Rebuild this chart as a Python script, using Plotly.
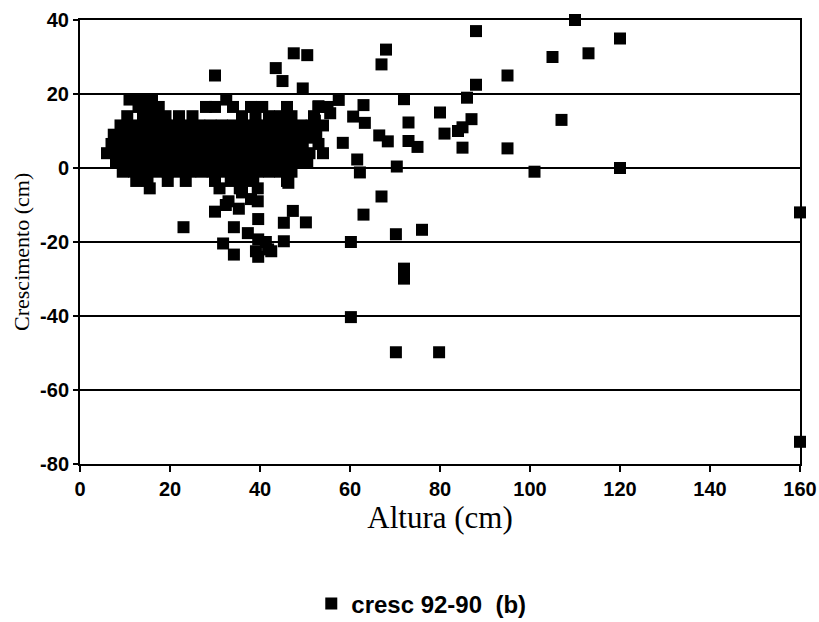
import plotly.graph_objects as go

# Dense cluster rows (y value, list of x values)
cluster_rows = [
    (18.5, [11, 13.5, 16, 32.5]),
    (16.5, [13, 15.5, 17.5, 28, 30, 34, 38, 40.5, 46, 53, 55]),
    (14.0, [10.5, 14, 16.5, 19, 22, 25, 36, 39, 42, 44.5, 47, 52]),
    (11.5, [9, 11.5, 14, 16.5, 19, 21.5, 24, 26.5, 29, 31.5, 34, 36.5, 39, 41.5, 44, 46.5, 49, 51.5, 54]),
    (9.0, [7.5, 10, 12.5, 15, 17.5, 20, 22.5, 25, 27.5, 30, 32.5, 35, 37.5, 40, 42.5, 45, 47.5, 50, 52.5]),
    (6.5, [7, 9.5, 12, 14.5, 17, 19.5, 22, 24.5, 27, 29.5, 32, 34.5, 37, 39.5, 42, 44.5, 47, 49.5, 53]),
    (4.0, [6, 8.5, 11, 13.5, 16, 18.5, 21, 23.5, 26, 28.5, 31, 33.5, 36, 38.5, 41, 43.5, 46, 48.5, 51, 54]),
    (1.5, [8, 10.5, 13, 15.5, 18, 20.5, 23, 25.5, 28, 30.5, 33, 35.5, 38, 40.5, 43, 45.5, 48, 50.5]),
    (-1.0, [9.5, 12, 14.5, 17, 19.5, 22, 24.5, 27, 29.5, 32, 34.5, 37, 39.5, 42, 44.5, 47]),
    (-3.5, [12.5, 15, 19.5, 23.5, 30, 33.5, 36, 38.5, 46]),
    (-5.5, [15.5, 31, 35.5, 39.5]),
]

altura_extra = [30, 43.5, 45, 47.5, 50.5, 49.5, 68, 67, 88, 110, 105, 113, 120, 95, 88, 86,
                72, 57.5, 63, 53, 55.6, 52.2, 60.7, 63.3, 80, 73, 87, 85, 84, 81, 66.5, 68.4,
                73, 75, 85, 95, 107, 70.4, 58.4, 61.6, 62.2, 50.9, 101, 120, 160, 160,
                67, 63, 50.2, 47.3, 45.3, 70.2, 76, 60.2, 72, 72, 60.2, 70.2, 79.8, 23, 30,
                32.4, 35.3, 39.5, 39.6, 34.2, 37.3, 39.6, 39.1, 39.6, 41.8, 42.5, 45.3, 41.3,
                31.8, 34.2, 46.3, 33, 36, 38]
cresc_extra = [25, 27, 23.5, 31, 30.5, 21.5, 32, 28, 37, 40, 30, 31, 35, 25, 22.5, 19,
               18.6, 18.4, 17, 16.7, 14.8, 12.8, 13.9, 12.2, 15, 12.3, 13.2, 11, 10, 9.3, 8.8, 7.2,
               7.3, 5.7, 5.5, 5.3, 13, 0.4, 6.8, 2.3, -1.2, 8.2, -1, 0, -12, -74,
               -7.7, -12.6, -14.7, -11.6, -14.8, -17.9, -16.7, -20, -27.2, -29.9, -40.3, -49.8, -49.8, -16, -11.8,
               -10, -11, -9, -13.8, -16, -17.6, -19.3, -22.5, -24, -22, -22.5, -19.8, -20,
               -20.4, -23.4, -4, -9, -6.6, -8.4]

altura = []
cresc = []
for yv, xs in cluster_rows:
    for xv in xs:
        altura.append(xv)
        cresc.append(yv)
altura += altura_extra
cresc += cresc_extra

x_ticks = [0, 20, 40, 60, 80, 100, 120, 140, 160]
y_ticks = [-80, -60, -40, -20, 0, 20, 40]
y_tick_labels = ["-80", "-60", "-40", "-20", "0", "20", "40"]

tick_font = dict(family="Liberation Sans", size=20, color="black", weight="bold")

fig = go.Figure()
fig.add_trace(go.Scatter(
    x=altura, y=cresc, mode="markers",
    marker=dict(symbol="square", size=12, color="black", line=dict(width=0)),
    name="cresc 92-90  (b)", cliponaxis=False,
))

fig.update_layout(
    width=819, height=622,
    margin=dict(l=80, r=19, t=20, b=158),
    paper_bgcolor="white", plot_bgcolor="white",
    showlegend=True,
    legend=dict(orientation="h", xref="paper", x=0.474, xanchor="center",
                yref="container", y=0.029, yanchor="middle",
                font=dict(family="Liberation Sans", size=24, color="black", weight="bold"),
                itemsizing="constant"),
    xaxis=dict(range=[0, 160], tickvals=x_ticks, showgrid=False, zeroline=False, automargin=False,
               showline=True, linecolor="black", linewidth=2, mirror=True,
               ticks="outside", ticklen=6, tickwidth=2, tickcolor="black",
               tickfont=tick_font,
               title=dict(text="Altura (cm)", standoff=6,
                          font=dict(family="Liberation Serif", size=31, color="black"))),
    yaxis=dict(range=[-80, 40], tickvals=y_ticks, ticktext=y_tick_labels,
               showgrid=True, gridcolor="black", gridwidth=1.5, automargin=False,
               zeroline=False, showline=True, linecolor="black", linewidth=2, mirror=True,
               ticks="outside", ticklen=5, tickwidth=2, tickcolor="black",
               tickfont=tick_font),
    annotations=[dict(text="Crescimento (cm)", textangle=-90, showarrow=False,
                      xref="paper", yref="paper", x=-0.0806, y=0.4775,
                      xanchor="center", yanchor="middle",
                      font=dict(family="Liberation Serif", size=22, color="black"))],
)

# remove the default 8px page margin so the figure fills the window exactly
fig.write_html("out.html", config={"displayModeBar": False},
               post_script="document.body.style.margin='0px';")
